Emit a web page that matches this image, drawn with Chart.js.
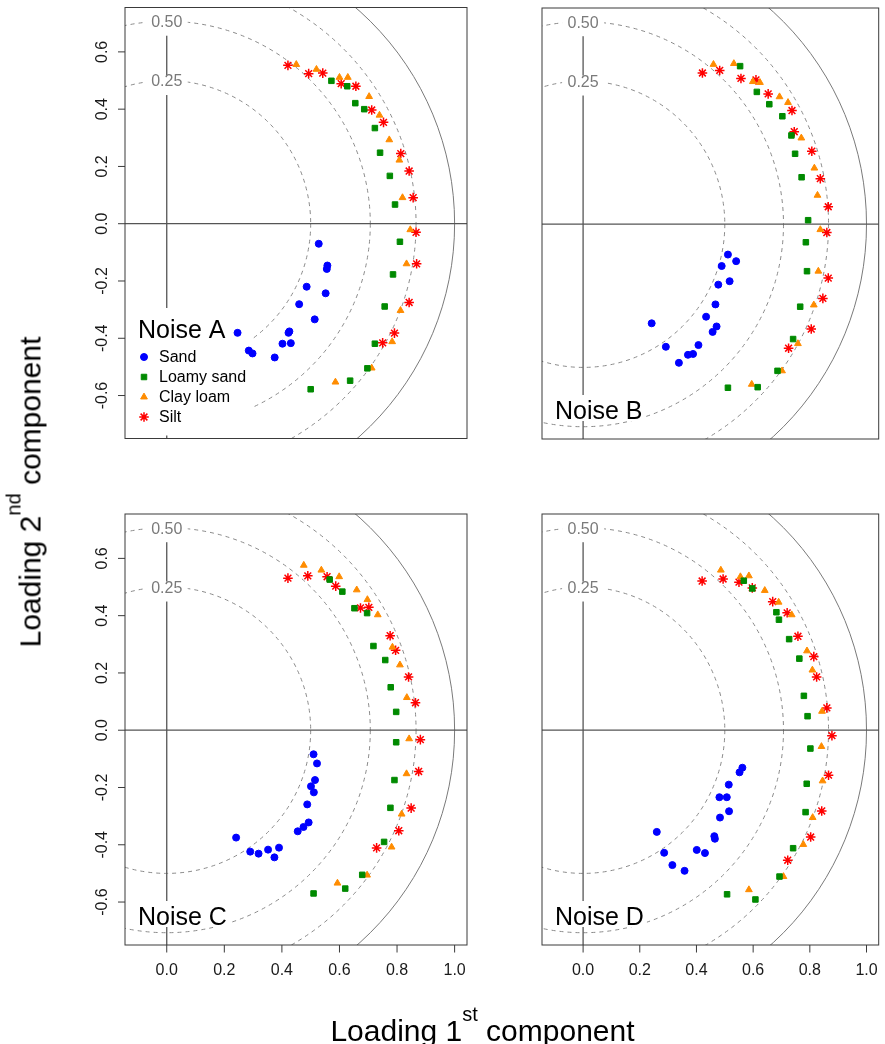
<!DOCTYPE html>
<html>
<head>
<meta charset="utf-8">
<script src="https://cdn.jsdelivr.net/npm/chart.js@4.4.1/dist/chart.umd.min.js"></script>
<style>
  html, body { margin: 0; padding: 0; background: #fff; }
  #wrap { position: relative; width: 885px; height: 1044px; overflow: hidden;
          font-family: "Liberation Sans", Arial, sans-serif; }
  #wrap canvas { position: absolute; left: 0; top: 0; }
  .axis-title { position: absolute; font-size: 30px; line-height: 30px; white-space: nowrap; color: #000; }
  .axis-title .sup { font-size: 20px; position: relative; top: -20px; }
</style>
</head>
<body>
<div id="wrap">
  <canvas id="panelA" width="885" height="1044"></canvas>
  <canvas id="panelB" width="885" height="1044"></canvas>
  <canvas id="panelC" width="885" height="1044"></canvas>
  <canvas id="panelD" width="885" height="1044"></canvas>
  <div class="axis-title" style="left:482.5px; top:1016px; transform:translateX(-50%);">Loading 1<span class="sup">st</span> component</div>
  <div class="axis-title" style="left:32px; top:492px; transform:translate(-50%,-50%) rotate(-90deg);">Loading 2<span class="sup">nd</span> component</div>
</div>
<script>
// ---- categories and tick labels ----
const soils = ['Sand', 'Loamy sand', 'Clay loam', 'Silt'];
const panelNames = ['Noise A', 'Noise B', 'Noise C', 'Noise D'];
const xTicks = [0.0, 0.2, 0.4, 0.6, 0.8, 1.0];
const yTicks = [-0.6, -0.4, -0.2, 0.0, 0.2, 0.4, 0.6];
// explained-variance reference circles (radius = sqrt(variance))
const varLabels = ['0.25', '0.50'];
const varRadii = [0.5, Math.SQRT1_2];
const dashedRadii = [0.5, Math.SQRT1_2, Math.sqrt(0.75)];
const solidRadii = [1.0];

// ---- loadings [1st component, 2nd component] ----
const sandA = [[0.528,-0.070],[0.558,-0.146],[0.556,-0.158],[0.486,-0.220],[0.552,-0.243],[0.460,-0.281],[0.514,-0.334],[0.246,-0.381],[0.426,-0.376],[0.423,-0.381],[0.402,-0.419],[0.431,-0.417],[0.285,-0.443],[0.298,-0.453],[0.375,-0.467]];
const loamyA = [[0.572,0.499],[0.627,0.480],[0.655,0.421],[0.686,0.400],[0.723,0.334],[0.741,0.248],[0.775,0.167],[0.793,0.067],[0.810,-0.063],[0.786,-0.177],[0.757,-0.289],[0.723,-0.419],[0.697,-0.505],[0.637,-0.548],[0.500,-0.578]];
const clayA = [[0.450,0.556],[0.520,0.539],[0.600,0.511],[0.629,0.511],[0.703,0.444],[0.739,0.379],[0.773,0.293],[0.808,0.222],[0.819,0.091],[0.846,-0.021],[0.833,-0.140],[0.812,-0.303],[0.783,-0.412],[0.712,-0.504],[0.586,-0.553]];
const siltA = [[0.421,0.553],[0.493,0.524],[0.542,0.526],[0.606,0.489],[0.657,0.480],[0.712,0.397],[0.753,0.354],[0.813,0.245],[0.842,0.184],[0.856,0.091],[0.866,-0.030],[0.868,-0.140],[0.842,-0.275],[0.791,-0.382],[0.750,-0.416]];

const sandB = [[0.511,-0.106],[0.540,-0.129],[0.489,-0.146],[0.517,-0.199],[0.477,-0.211],[0.467,-0.280],[0.434,-0.323],[0.471,-0.357],[0.457,-0.376],[0.242,-0.346],[0.292,-0.428],[0.407,-0.422],[0.388,-0.453],[0.370,-0.456],[0.338,-0.484]];
const loamyB = [[0.554,0.552],[0.613,0.462],[0.657,0.419],[0.703,0.377],[0.735,0.310],[0.748,0.246],[0.771,0.164],[0.794,0.014],[0.786,-0.063],[0.790,-0.164],[0.766,-0.288],[0.741,-0.401],[0.686,-0.512],[0.616,-0.569],[0.511,-0.571]];
const clayB = [[0.460,0.558],[0.532,0.561],[0.599,0.498],[0.624,0.495],[0.693,0.445],[0.723,0.425],[0.770,0.301],[0.816,0.196],[0.827,0.101],[0.837,-0.019],[0.830,-0.164],[0.814,-0.282],[0.758,-0.417],[0.702,-0.512],[0.595,-0.559]];
const siltB = [[0.421,0.528],[0.482,0.537],[0.557,0.509],[0.610,0.504],[0.653,0.455],[0.737,0.397],[0.745,0.323],[0.807,0.255],[0.837,0.159],[0.865,0.061],[0.860,-0.029],[0.865,-0.188],[0.846,-0.259],[0.805,-0.366],[0.725,-0.433]];

const sandC = [[0.510,-0.084],[0.522,-0.116],[0.515,-0.174],[0.501,-0.196],[0.511,-0.217],[0.488,-0.259],[0.493,-0.322],[0.475,-0.338],[0.455,-0.353],[0.241,-0.375],[0.290,-0.424],[0.319,-0.431],[0.352,-0.417],[0.390,-0.410],[0.374,-0.444]];
const loamyC = [[0.566,0.526],[0.610,0.484],[0.652,0.426],[0.696,0.409],[0.718,0.294],[0.759,0.245],[0.778,0.150],[0.797,0.064],[0.797,-0.042],[0.791,-0.174],[0.777,-0.271],[0.755,-0.390],[0.679,-0.505],[0.620,-0.553],[0.510,-0.570]];
const clayC = [[0.476,0.576],[0.537,0.559],[0.599,0.536],[0.660,0.490],[0.697,0.456],[0.733,0.403],[0.784,0.290],[0.810,0.228],[0.834,0.114],[0.842,-0.030],[0.833,-0.152],[0.816,-0.293],[0.781,-0.408],[0.696,-0.506],[0.593,-0.534]];
const siltC = [[0.421,0.531],[0.490,0.539],[0.557,0.536],[0.587,0.503],[0.673,0.427],[0.702,0.429],[0.776,0.330],[0.795,0.279],[0.840,0.186],[0.864,0.096],[0.881,-0.033],[0.875,-0.144],[0.849,-0.272],[0.806,-0.351],[0.729,-0.411]];

const sandD = [[0.562,-0.131],[0.552,-0.147],[0.514,-0.190],[0.481,-0.234],[0.507,-0.234],[0.515,-0.283],[0.483,-0.305],[0.463,-0.370],[0.465,-0.379],[0.260,-0.355],[0.286,-0.428],[0.401,-0.418],[0.430,-0.429],[0.315,-0.471],[0.358,-0.491]];
const loamyD = [[0.567,0.522],[0.597,0.495],[0.682,0.412],[0.691,0.386],[0.727,0.318],[0.763,0.250],[0.779,0.120],[0.792,0.049],[0.802,-0.064],[0.789,-0.187],[0.785,-0.286],[0.741,-0.412],[0.693,-0.511],[0.608,-0.591],[0.508,-0.573]];
const clayD = [[0.486,0.559],[0.555,0.536],[0.585,0.539],[0.641,0.488],[0.690,0.447],[0.736,0.403],[0.790,0.277],[0.809,0.210],[0.843,0.066],[0.841,-0.057],[0.845,-0.177],[0.810,-0.305],[0.777,-0.399],[0.707,-0.511],[0.585,-0.557]];
const siltD = [[0.420,0.521],[0.494,0.528],[0.550,0.517],[0.597,0.497],[0.669,0.449],[0.720,0.410],[0.758,0.328],[0.814,0.257],[0.824,0.186],[0.860,0.078],[0.878,-0.019],[0.866,-0.157],[0.842,-0.282],[0.803,-0.373],[0.722,-0.454]];

// ---- styling ----
const FONT = '"Liberation Sans", Arial, sans-serif';
const soilStyles = [
  { pointStyle: 'circle',   color: '#0000ff', radius: 3.5, border: 1 },
  { pointStyle: 'rect',     color: '#008a00', radius: 3.9, border: 1 },
  { pointStyle: 'triangle', color: '#ff8c00', radius: 3.9, border: 1 },
  { pointStyle: 'star',     color: '#ff0000', radius: 4.8, border: 1.5 }
];
const X_RANGE = [-0.145, 1.043];
const Y_RANGE = [-0.75, 0.755];

// plot boxes on the page (left, top, right, bottom)
const panelLayout = [
  { id: 'panelA', box: [125, 7.5, 467, 438.5], yAxis: true,  xAxis: false, legend: true },
  { id: 'panelB', box: [542, 8,   884, 439],   yAxis: false, xAxis: false, legend: false },
  { id: 'panelC', box: [125, 514, 467, 945],   yAxis: true,  xAxis: true,  legend: false },
  { id: 'panelD', box: [542, 514, 884, 945],   yAxis: false, xAxis: true,  legend: false }
];
const panelSeries = [
  [sandA, loamyA, clayA, siltA],
  [sandB, loamyB, clayB, siltB],
  [sandC, loamyC, clayC, siltC],
  [sandD, loamyD, clayD, siltD]
];

// marker drawn in the legend, same geometry as the chart's point styles
function drawMarker(ctx, st, x, y) {
  const r = st.radius;
  ctx.save();
  ctx.fillStyle = st.color; ctx.strokeStyle = st.color; ctx.lineWidth = st.border;
  ctx.beginPath();
  if (st.pointStyle === 'circle') {
    ctx.arc(x, y, r, 0, Math.PI * 2); ctx.fill(); ctx.stroke();
  } else if (st.pointStyle === 'rect') {
    const s = r * Math.SQRT1_2; ctx.rect(x - s, y - s, 2 * s, 2 * s); ctx.fill(); ctx.stroke();
  } else if (st.pointStyle === 'triangle') {
    for (let k = 0; k < 3; k++) {
      const ang = k * 2 * Math.PI / 3;
      const px = x + Math.sin(ang) * r, py = y - Math.cos(ang) * r;
      k ? ctx.lineTo(px, py) : ctx.moveTo(px, py);
    }
    ctx.closePath(); ctx.fill(); ctx.stroke();
  } else {
    const d = r * Math.SQRT1_2;
    ctx.moveTo(x - r, y); ctx.lineTo(x + r, y);
    ctx.moveTo(x, y - r); ctx.lineTo(x, y + r);
    ctx.moveTo(x - d, y - d); ctx.lineTo(x + d, y + d);
    ctx.moveTo(x - d, y + d); ctx.lineTo(x + d, y - d);
    ctx.stroke();
  }
  ctx.restore();
}

const loadingPlotDecor = {
  id: 'loadingPlotDecor',
  beforeDatasetsDraw(chart, args, opts) {
    const { ctx, chartArea: a, scales: { x, y } } = chart;
    const cx = x.getPixelForValue(0), cy = y.getPixelForValue(0);
    const rx = x.getPixelForValue(1) - cx, ry = cy - y.getPixelForValue(1);
    ctx.save();
    ctx.beginPath(); ctx.rect(a.left, a.top, a.width, a.height); ctx.clip();

    // reference circles
    ctx.lineWidth = 1;
    ctx.strokeStyle = '#8a8a8a';
    ctx.setLineDash([4, 4]);
    dashedRadii.forEach(r => { ctx.beginPath(); ctx.ellipse(cx, cy, r * rx, r * ry, 0, 0, Math.PI * 2); ctx.stroke(); });
    ctx.setLineDash([]);
    ctx.strokeStyle = '#7a7a7a';
    solidRadii.forEach(r => { ctx.beginPath(); ctx.ellipse(cx, cy, r * rx, r * ry, 0, 0, Math.PI * 2); ctx.stroke(); });

    // component axes
    ctx.strokeStyle = '#555';
    ctx.lineWidth = 1.3;
    ctx.beginPath(); ctx.moveTo(a.left, cy); ctx.lineTo(a.right, cy); ctx.stroke();
    ctx.beginPath(); ctx.moveTo(cx, a.bottom); ctx.lineTo(cx, y.getPixelForValue(Math.SQRT1_2)); ctx.stroke();

    // explained variance labels
    ctx.font = '16px ' + FONT;
    ctx.textAlign = 'center'; ctx.textBaseline = 'middle';
    varLabels.forEach((t, i) => {
      const py = y.getPixelForValue(varRadii[i]) + 1.5;
      ctx.fillStyle = '#fff'; ctx.fillRect(cx - 21, py - 7, 42, 20);
      ctx.fillStyle = '#7a7a7a'; ctx.fillText(t, cx, py);
    });

    // panel title (and legend on the first panel)
    ctx.textAlign = 'left'; ctx.textBaseline = 'alphabetic';
    ctx.font = '25px ' + FONT;
    const tx = a.left + 13;
    if (opts.legend) {
      const base = a.bottom - 100.5;
      ctx.fillStyle = '#fff'; ctx.fillRect(a.left, base - 30, 127, a.bottom - 3 - (base - 30));
      ctx.fillStyle = '#000'; ctx.fillText(opts.title, tx, base);
      ctx.font = '16px ' + FONT; ctx.textBaseline = 'middle';
      soils.forEach((s, i) => {
        const ly = base + 19 + i * 20;
        drawMarker(ctx, soilStyles[i], a.left + 19, ly);
        ctx.fillStyle = '#000'; ctx.fillText(s, a.left + 34, ly + 0.5);
      });
    } else {
      const base = a.bottom - 20;
      const w = ctx.measureText(opts.title).width;
      ctx.fillStyle = '#fff'; ctx.fillRect(a.left, base - 24, tx - a.left + w + 3, 26);
      ctx.fillStyle = '#000'; ctx.fillText(opts.title, tx, base);
    }
    ctx.restore();
  },
  afterDatasetsDraw(chart, args, opts) {
    const { ctx, chartArea: a, scales: { x, y } } = chart;
    ctx.save();
    ctx.strokeStyle = '#3a3a3a'; ctx.lineWidth = 1;
    ctx.strokeRect(a.left, a.top, a.width, a.height);
    ctx.fillStyle = '#1a1a1a';
    ctx.font = '16px ' + FONT;
    if (opts.yAxis) {
      yTicks.forEach(v => {
        const py = y.getPixelForValue(v);
        ctx.beginPath(); ctx.moveTo(a.left - 7, py); ctx.lineTo(a.left, py); ctx.stroke();
        ctx.save();
        ctx.translate(a.left - 18, py); ctx.rotate(-Math.PI / 2);
        ctx.textAlign = 'center'; ctx.textBaseline = 'alphabetic';
        ctx.fillText(v.toFixed(1), 0, 0);
        ctx.restore();
      });
    }
    if (opts.xAxis) {
      ctx.textAlign = 'center'; ctx.textBaseline = 'alphabetic';
      xTicks.forEach(v => {
        const px = x.getPixelForValue(v);
        ctx.beginPath(); ctx.moveTo(px, a.bottom); ctx.lineTo(px, a.bottom + 7.5); ctx.stroke();
        ctx.fillText(v.toFixed(1), px, a.bottom + 29.5);
      });
    }
    ctx.restore();
  }
};

panelLayout.forEach((p, pi) => {
  const [l, t, r, b] = p.box;
  const canvas = document.getElementById(p.id);
  const datasets = panelSeries[pi].map((pts, si) => {
    const st = soilStyles[si];
    return {
      label: soils[si],
      data: pts.map(([px, py]) => ({ x: px, y: py })),
      pointStyle: st.pointStyle,
      pointRadius: st.radius,
      pointBorderWidth: st.border,
      backgroundColor: st.color,
      borderColor: st.color,
      showLine: false
    };
  });
  new Chart(canvas, {
    type: 'scatter',
    data: { datasets },
    options: {
      responsive: false,
      animation: false,
      events: [],
      layout: { padding: { left: l, top: t, right: canvas.width - r, bottom: canvas.height - b } },
      scales: {
        x: { type: 'linear', min: X_RANGE[0], max: X_RANGE[1], display: false },
        y: { type: 'linear', min: Y_RANGE[0], max: Y_RANGE[1], display: false }
      },
      plugins: {
        legend: { display: false },
        tooltip: { enabled: false },
        loadingPlotDecor: { title: panelNames[pi], yAxis: p.yAxis, xAxis: p.xAxis, legend: p.legend }
      }
    },
    plugins: [loadingPlotDecor]
  });
});
</script>
</body>
</html>
